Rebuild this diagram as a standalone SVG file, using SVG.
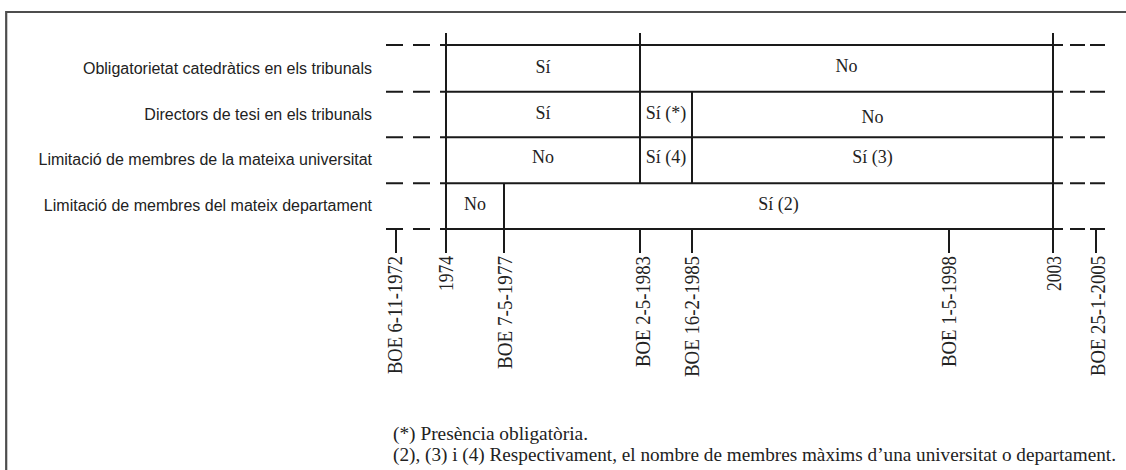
<svg xmlns="http://www.w3.org/2000/svg" width="1126" height="470" viewBox="0 0 1126 470">
<style>
.frame{stroke:#4d4d4d;stroke-width:2.2;fill:none}
.ln{stroke:#1a1a1a;stroke-width:2;fill:none}
.dl{stroke:#1a1a1a;stroke-width:2;fill:none;stroke-dasharray:17 10}
.dr{stroke:#1a1a1a;stroke-width:2;fill:none;stroke-dasharray:10 7 15 5 15 100}
.lab{font-family:"Liberation Sans",Arial,sans-serif;font-size:16px;fill:#222;text-anchor:end}
.cell{font-family:"Liberation Serif","Times New Roman",serif;font-size:18px;fill:#222;text-anchor:middle}
.ax{font-family:"Liberation Serif","Times New Roman",serif;font-size:21px;fill:#222;text-anchor:end}
.fn{font-family:"Liberation Serif","Times New Roman",serif;font-size:19px;fill:#222}
</style>
<rect width="1126" height="470" fill="#fff"/>
<path class="frame" d="M6.2 470V12H1126"/>

<g id="row-labels">
<text class="lab" x="372" y="73.5">Obligatorietat catedràtics en els tribunals</text>
<text class="lab" x="372" y="120">Directors de tesi en els tribunals</text>
<text class="lab" x="372" y="164.5">Limitació de membres de la mateixa universitat</text>
<text class="lab" x="372" y="210.5">Limitació de membres del mateix departament</text>
</g>

<g id="connectors">
<path class="ln" d="M446 45H1053M446 91.7H1053M446 137.3H1053M446 183.3H1053M446 229H1053"/>
<path class="dl" d="M386 45H446M386 91.7H446M386 137.3H446M386 183.3H446M386 229H446"/>
<path class="dr" d="M1053 45H1106M1053 91.7H1106M1053 137.3H1106M1053 183.3H1106M1053 229H1106"/>
<path class="ln" d="M446 33V253M1053 33V253M640 33V183.3M640 229V253M692 91.7V183.3M692 229V253M504 183.3V253M949 229V253M396 229V253M1096 229V253"/>
</g>

<g id="cells">
<text class="cell" x="543" y="72.7">Sí</text>
<text class="cell" x="846.5" y="71.7">No</text>
<text class="cell" x="543" y="119.3">Sí</text>
<text class="cell" x="666" y="119.3">Sí (*)</text>
<text class="cell" x="872.5" y="123.3">No</text>
<text class="cell" x="543" y="163.3">No</text>
<text class="cell" x="666" y="163.3">Sí (4)</text>
<text class="cell" x="872.5" y="163.3">Sí (3)</text>
<text class="cell" x="475" y="210">No</text>
<text class="cell" x="778.5" y="210">Sí (2)</text>
</g>

<g id="axis-labels">
<text class="ax" transform="translate(402,256) rotate(-90)" textLength="118" lengthAdjust="spacingAndGlyphs">BOE 6-11-1972</text>
<text class="ax" transform="translate(452.5,256) rotate(-90)" textLength="35" lengthAdjust="spacingAndGlyphs">1974</text>
<text class="ax" transform="translate(511.5,256) rotate(-90)" textLength="113" lengthAdjust="spacingAndGlyphs">BOE 7-5-1977</text>
<text class="ax" transform="translate(649.5,256) rotate(-90)" textLength="111" lengthAdjust="spacingAndGlyphs">BOE 2-5-1983</text>
<text class="ax" transform="translate(698.5,256) rotate(-90)" textLength="121" lengthAdjust="spacingAndGlyphs">BOE 16-2-1985</text>
<text class="ax" transform="translate(956,256) rotate(-90)" textLength="111" lengthAdjust="spacingAndGlyphs">BOE 1-5-1998</text>
<text class="ax" transform="translate(1061,256) rotate(-90)" textLength="35" lengthAdjust="spacingAndGlyphs">2003</text>
<text class="ax" transform="translate(1105,256) rotate(-90)" textLength="120" lengthAdjust="spacingAndGlyphs">BOE 25-1-2005</text>
</g>

<g id="footnotes">
<text class="fn" x="393" y="440" textLength="195" lengthAdjust="spacingAndGlyphs">(*) Presència obligatòria.</text>
<text class="fn" x="393" y="461" textLength="723" lengthAdjust="spacingAndGlyphs">(2), (3) i (4) Respectivament, el nombre de membres màxims d’una universitat o departament.</text>
</g>
</svg>
